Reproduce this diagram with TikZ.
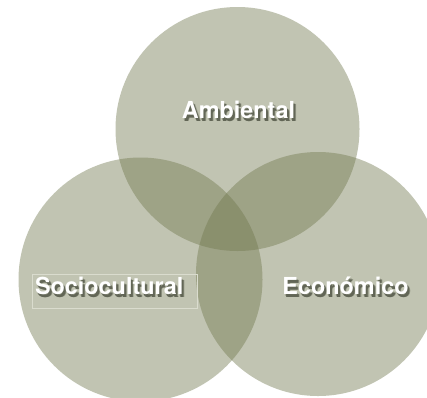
\documentclass[tikz,border=0pt]{standalone}
\usepackage{fontspec}
\setsansfont{TeX Gyre Heros}
\usetikzlibrary{positioning}

\definecolor{setfill}{RGB}{113,120,78}
\definecolor{shadeA}{RGB}{98,102,86}
\definecolor{shadeB}{RGB}{152,156,138}
\definecolor{boxline}{RGB}{218,220,206}

% white text with a soft drop shadow
\newcommand{\dropshade}[1]{%
  \makebox[0pt][l]{\hspace{2.8pt}\raisebox{-3.8pt}{\color{shadeB}#1}}%
  \makebox[0pt][l]{\hspace{1.2pt}\raisebox{-2.2pt}{\color{shadeB}#1}}%
  \makebox[0pt][l]{\hspace{2pt}\raisebox{-3pt}{\color{shadeA}#1}}%
  #1}

\begin{document}
\begin{tikzpicture}[x=1pt,y=-1pt,
    set/.style={circle,minimum size=244pt,inner sep=0pt,draw=none,
                fill=setfill,fill opacity=0.43},
    lbl/.style={text=white,inner sep=0pt,
                font=\sffamily\bfseries\fontsize{23.4}{28}\selectfont}]

  \fill[white] (0,0) rectangle (427,397);
  \useasboundingbox (0,0) rectangle (427,397);

  % the three sets
  \node[set] (amb) at (237.5,129) {};
  \node[set] (soc) at (140.5,279.5) {};
  \node[set] (eco) at (318,274) {};

  % names
  \node[lbl,anchor=base] (ambtxt) at (238.5,118) {\dropshade{Ambiental}};
  \node[lbl,anchor=base] (ecotxt) at (345.5,294) {\dropshade{Económico}};
  \node[lbl,draw=boxline,line width=0.6pt,inner xsep=3pt,inner ysep=0pt,
        text height=20pt,text depth=14pt,text width=159pt,align=left]
        (soctxt) at (114.5,291) {\dropshade{Sociocultural}};
\end{tikzpicture}
\end{document}
